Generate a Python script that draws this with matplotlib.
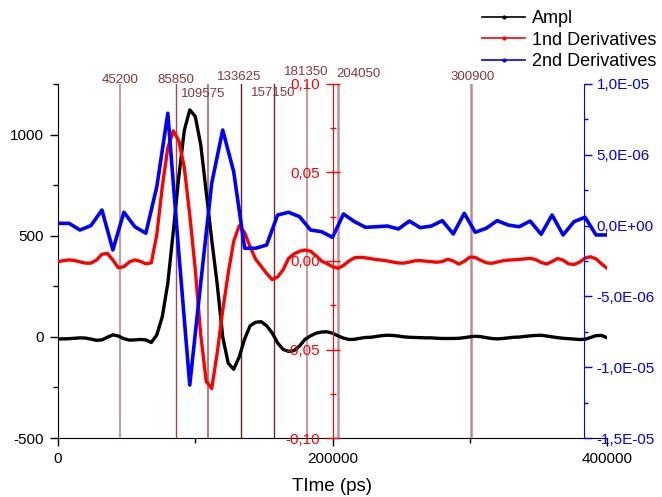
import matplotlib
matplotlib.use('Agg')
import matplotlib.pyplot as plt
import numpy as np
from matplotlib.ticker import MultipleLocator, FixedLocator, FuncFormatter
from matplotlib.lines import Line2D

plt.rcParams['font.family'] = ['Liberation Sans', 'DejaVu Sans']
plt.rcParams['axes.unicode_minus'] = False

# time axes (ps)
t_fine = np.arange(101) * 4000
t_coarse = np.arange(51) * 8000

ampl = [-10, -10, -9, -7, -5, -6, -11, -17, -15, -2,
        10, 4, -9, -16, -15, -13, -15, -28, 10, 100,
        265, 520, 790, 1020, 1122, 1090, 950, 715, 480, 260,
        0, -130, -160, -100, -10, 55, 72, 75, 55, 20,
        -30, -62, -72, -68, -45, -12, 5, 18, 24, 25,
        18, 5, -6, -13, -12, -7, -3, -2, 2, 6,
        8, 7, 4, 0, -2, -3, -4, -5, -5, -7,
        -8, -8, -8, -7, -4, 0, 3, 1, -4, -8,
        -10, -8, -5, -2, -1, 2, 5, 7, 8, 4,
        0, -4, -7, -9, -11, -13, -12, -3, 6, 7,
        -4]

# 1st derivative, in units of 1e-3
deriv1 = np.array([-0.4, 0.2, 0.6, 0.3, -0.5, -1.2, -1.2, 0.5, 3.8, 4.3,
                   0.5, -3.8, -3.2, -0.5, 0.6, -0.2, -1.6, -1.0, 15, 42,
                   64, 73.5, 68, 53, 26, -4.6, -41.7, -68, -72, -52,
                   -28, -7, 11, 19.9, 16, 8, 1, -3, -7, -10.5,
                   -9, -5, 1.5, 4, 5.5, 6.2, 5.5, 3, 0, -1.5,
                   -3.2, -4.1, -2.5, 0, 1.8, 2.1, 1.8, 1.3, 0.8, 0.5,
                   0, -0.6, -1.1, -1.2, -0.6, 0.1, 0.2, -0.1, -0.4, -0.7,
                   -0.3, 1.0, 0, -1.7, -0.2, 2.2, 2.0, 0.4, -1.0, -1.3,
                   -0.6, 0.1, 0.5, 0.7, 0.9, 1.2, 1.5, 0.8, -0.8, -1.7,
                   -0.3, 1.4, 0.5, -1.6, -2.0, -0.6, 1.6, 2.4, 1.2, -1.6,
                   -4.1]) * 1e-3

# 2nd derivative, in units of 1e-6
deriv2 = np.array([0.16, 0.16, -0.31, 0.0, 1.10, -1.72, 0.94, -0.08, -0.54, 2.75,
                   7.93, -1.9, -11.26, -4.04, 2.99, 6.75, 3.81, -1.60, -1.60, -1.37,
                   0.75, 0.94, 0.63, -0.31, -0.43, -0.83, 0.82, 0.28, -0.12, -0.08,
                   -0.03, -0.24, 0.32, -0.15, -0.03, 0.35, -0.59, 0.87, -0.47, -0.19,
                   0.35, 0.04, -0.08, 0.32, -0.61, 0.75, -0.66, 0.28, 0.59, -0.66,
                   -0.66]) * 1e-6

marker_times = [45200, 85850, 109575, 133625, 157150, 181350, 204050, 300900]
marker_colors = ['#c29494', '#a04848', '#b06464', '#6e1c1c', '#7e2626',
                 '#c29494', '#c29494', '#bc8c8c']
marker_widths = [1.3, 1.0, 1.2, 1.0, 1.0, 1.3, 1.8, 1.8]
# label baseline heights in axes fraction, sideways nudges in points
marker_label_y = [1.003, 1.003, 0.963, 1.011, 0.966, 1.025, 1.020, 1.011]
marker_label_dx = [0, 0, -3.5, -1.5, 0, -0.5, 14.5, 1]

fig = plt.figure(figsize=(6.62, 4.97), dpi=100)
ax = fig.add_axes([58 / 662, 1 - 438 / 497, 549 / 662, 354 / 497])

for x, c, w, ly, dx in zip(marker_times, marker_colors, marker_widths,
                           marker_label_y, marker_label_dx):
    ax.axvline(x, color=c, lw=w, zorder=1)
    ax.annotate(str(x), (x, ly), xycoords=ax.get_xaxis_transform(),
                xytext=(dx, 0), textcoords='offset points', ha='center',
                va='baseline', color='#8e3434', fontsize=9.5,
                annotation_clip=False)

ax.plot(t_fine, ampl, color='black', lw=2.4, zorder=3)
ax.set_xlim(0, 400000)
ax.set_ylim(-500, 1250)
ax.spines['top'].set_visible(False)
ax.spines['right'].set_visible(False)
ax.xaxis.set_major_locator(MultipleLocator(200000))
ax.xaxis.set_minor_locator(MultipleLocator(100000))
ax.xaxis.set_major_formatter(FuncFormatter(lambda v, p: '%d' % v))
ax.yaxis.set_major_locator(MultipleLocator(500))
ax.yaxis.set_minor_locator(MultipleLocator(250))
ax.tick_params(which='major', length=6, width=1, labelsize=11, pad=4)
ax.tick_params(which='minor', length=3.5, width=1)
ax.set_xlabel('TIme (ps)', fontsize=13.5, labelpad=8.5)

# 1st derivative axis, drawn through the middle of the plot
ax2 = ax.twinx()
ax2.plot(t_fine, deriv1, color='red', lw=2.4)
ax2.set_ylim(-0.1, 0.1)
for s in ['top', 'bottom', 'right']:
    ax2.spines[s].set_visible(False)
ax2.spines['left'].set_visible(True)
ax2.spines['left'].set_position(('axes', 0.5))
ax2.spines['left'].set_color('red')
ax2.yaxis.set_ticks_position('left')
ax2.yaxis.set_major_locator(FixedLocator([-0.1, -0.05, 0, 0.05, 0.1]))
ax2.yaxis.set_minor_locator(FixedLocator([-0.075, -0.025, 0.025, 0.075]))
ax2.yaxis.set_major_formatter(FuncFormatter(lambda v, p: ('%.2f' % v).replace('.', ',')))
ax2.tick_params(axis='y', which='major', direction='inout', length=10, width=1,
                colors='red', labelsize=11, pad=4)
ax2.tick_params(axis='y', which='minor', direction='inout', length=4.5, width=1,
                colors='red')

# 2nd derivative axis on the right
ax3 = ax.twinx()
ax3.plot(t_coarse, deriv2, color='blue', lw=2.6)
ax3.set_ylim(-1.5e-5, 1e-5)
for s in ['top', 'bottom', 'left']:
    ax3.spines[s].set_visible(False)
ax3.spines['right'].set_position(('axes', 0.958))
ax3.spines['right'].set_color('blue')
ax3.yaxis.set_major_locator(FixedLocator([-1.5e-5, -1e-5, -5e-6, 0, 5e-6, 1e-5]))
ax3.yaxis.set_minor_locator(FixedLocator([-1.25e-5, -7.5e-6, -2.5e-6, 2.5e-6, 7.5e-6]))
ax3.yaxis.set_major_formatter(FuncFormatter(lambda v, p: ('%.1E' % v).replace('.', ',')))
ax3.tick_params(axis='y', which='major', direction='out', length=6, width=1,
                colors='blue', labelsize=11, pad=3)
ax3.tick_params(axis='y', which='minor', direction='out', length=3, width=1,
                colors='blue')

handles = [Line2D([], [], color='black', lw=1.2, marker='o', markersize=2),
           Line2D([], [], color='red', lw=1.2, marker='o', markersize=2),
           Line2D([], [], color='blue', lw=1.2, marker='o', markersize=2)]
fig.legend(handles, ['Ampl', '1nd Derivatives', '2nd Derivatives'],
           loc='upper left', bbox_to_anchor=(482 / 662, 1 - 10 / 497),
           frameon=False, fontsize=13, handlelength=2.4, handletextpad=0.35,
           labelspacing=0.25, borderpad=0, borderaxespad=0)

fig.savefig('out.png', dpi=100)
